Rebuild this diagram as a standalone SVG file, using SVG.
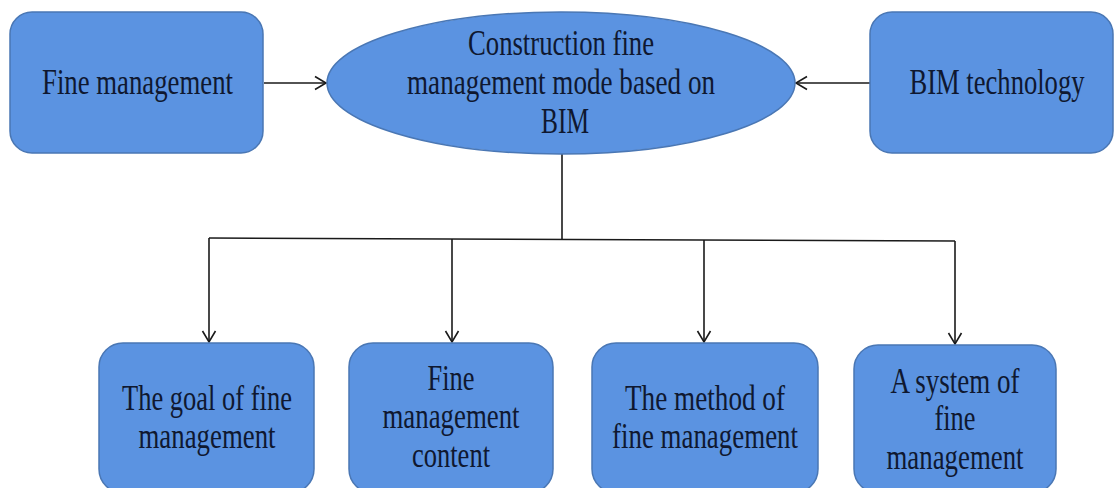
<svg xmlns="http://www.w3.org/2000/svg" width="1116" height="488" viewBox="0 0 1116 488">
  <style>
    .node { fill: #5B93E1; stroke: #4A77B4; stroke-width: 1.5; }
    .lbl { font-family: "Liberation Serif", "DejaVu Serif", serif; font-size: 35px; fill: #0F1830; text-anchor: middle; }
    .conn { stroke: #1A1A1A; stroke-width: 1.6; fill: none; }
  </style>
  <defs>
    <marker id="arr" markerUnits="userSpaceOnUse" markerWidth="14" markerHeight="16" refX="12" refY="8" orient="auto">
      <path d="M1,1.5 L12,8 L1,14.5" fill="none" stroke="#1A1A1A" stroke-width="1.6"/>
    </marker>
  </defs>
  <rect width="1116" height="488" fill="#FFFFFF"/>

  <g id="connectors">
    <line class="conn" x1="264" y1="83" x2="326" y2="83" marker-end="url(#arr)"/>
    <line class="conn" x1="870" y1="83" x2="796" y2="83" marker-end="url(#arr)"/>
    <line class="conn" x1="562" y1="154" x2="562" y2="239"/>
    <line class="conn" x1="209" y1="238" x2="955" y2="241"/>
    <line class="conn" x1="209" y1="238" x2="209" y2="342" marker-end="url(#arr)"/>
    <line class="conn" x1="452" y1="239" x2="452" y2="342" marker-end="url(#arr)"/>
    <line class="conn" x1="704" y1="240" x2="704" y2="342" marker-end="url(#arr)"/>
    <line class="conn" x1="955" y1="241" x2="955" y2="344" marker-end="url(#arr)"/>
  </g>

  <g id="fine-management">
    <rect class="node" x="10" y="12" width="253" height="141" rx="22"/>
    <text class="lbl" x="137.5" y="94" textLength="191" lengthAdjust="spacingAndGlyphs">Fine management</text>
  </g>

  <g id="bim-mode">
    <ellipse class="node" cx="561" cy="83" rx="234" ry="71"/>
    <text class="lbl" x="561" y="55" textLength="186" lengthAdjust="spacingAndGlyphs">Construction fine</text>
    <text class="lbl" x="561" y="94" textLength="308" lengthAdjust="spacingAndGlyphs">management mode based on</text>
    <text class="lbl" x="565" y="133" textLength="48" lengthAdjust="spacingAndGlyphs">BIM</text>
  </g>

  <g id="bim-technology">
    <rect class="node" x="870" y="12" width="243" height="141" rx="22"/>
    <text class="lbl" x="997" y="94" textLength="175" lengthAdjust="spacingAndGlyphs">BIM technology</text>
  </g>

  <g id="goal">
    <rect class="node" x="99" y="343" width="215" height="150" rx="24"/>
    <text class="lbl" x="207" y="410" textLength="170" lengthAdjust="spacingAndGlyphs">The goal of fine</text>
    <text class="lbl" x="207" y="448" textLength="137" lengthAdjust="spacingAndGlyphs">management</text>
  </g>

  <g id="content">
    <rect class="node" x="349" y="343" width="204" height="150" rx="24"/>
    <text class="lbl" x="451" y="390" textLength="47" lengthAdjust="spacingAndGlyphs">Fine</text>
    <text class="lbl" x="451" y="428" textLength="137" lengthAdjust="spacingAndGlyphs">management</text>
    <text class="lbl" x="451" y="467" textLength="78" lengthAdjust="spacingAndGlyphs">content</text>
  </g>

  <g id="method">
    <rect class="node" x="592" y="343" width="226" height="150" rx="24"/>
    <text class="lbl" x="705" y="410" textLength="160" lengthAdjust="spacingAndGlyphs">The method of</text>
    <text class="lbl" x="705" y="448" textLength="186" lengthAdjust="spacingAndGlyphs">fine management</text>
  </g>

  <g id="system">
    <rect class="node" x="854" y="345" width="202" height="148" rx="24"/>
    <text class="lbl" x="955" y="393" textLength="129" lengthAdjust="spacingAndGlyphs">A system of</text>
    <text class="lbl" x="955" y="430" textLength="41" lengthAdjust="spacingAndGlyphs">fine</text>
    <text class="lbl" x="955" y="469" textLength="137" lengthAdjust="spacingAndGlyphs">management</text>
  </g>
</svg>
